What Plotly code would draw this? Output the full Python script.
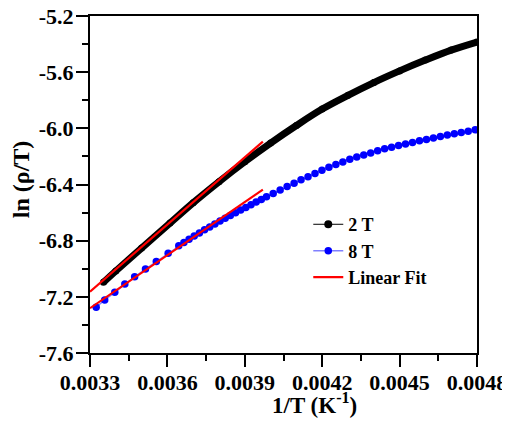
import plotly.graph_objects as go

# 2 T data (dense points)
t2_x = [0.003352, 0.00340, 0.00350, 0.00361, 0.00370, 0.00380, 0.00390, 0.00400,
        0.00410, 0.00420, 0.00430, 0.00440, 0.00450, 0.00460, 0.00470, 0.00480]
t2_y = [-7.097, -7.016, -6.853, -6.675, -6.530, -6.380, -6.238, -6.105,
        -5.980, -5.863, -5.765, -5.674, -5.591, -5.514, -5.443, -5.385]

# 8 T data
t8_x = [0.003324, 0.003357, 0.003396, 0.003435, 0.003473, 0.003515, 0.003557, 0.003603, 0.003644,
        0.003664, 0.003684, 0.003704, 0.003724, 0.003744, 0.003764, 0.003784, 0.003804, 0.003824,
        0.003844, 0.003864, 0.003884, 0.003904, 0.003924, 0.003944, 0.003964, 0.003984,
        0.004010, 0.004037, 0.004064, 0.004091, 0.004118, 0.004145, 0.004172, 0.004199, 0.004226,
        0.004253, 0.004280, 0.004307, 0.004334, 0.004361, 0.004388, 0.004415, 0.004442, 0.004469,
        0.004496, 0.004523, 0.004550, 0.004577, 0.004604, 0.004631, 0.004658, 0.004685, 0.004712,
        0.004739, 0.004766, 0.004793]
t8_y = [-7.274, -7.222, -7.168, -7.109, -7.057, -7.002, -6.948, -6.890, -6.836,
        -6.813, -6.790, -6.767, -6.745, -6.723, -6.702, -6.681, -6.660, -6.640,
        -6.621, -6.601, -6.582, -6.563, -6.544, -6.525, -6.506, -6.488,
        -6.464, -6.440, -6.415, -6.391, -6.367, -6.344, -6.321, -6.299, -6.278,
        -6.258, -6.240, -6.221, -6.205, -6.190, -6.175, -6.160, -6.145, -6.134,
        -6.123, -6.111, -6.100, -6.089, -6.079, -6.068, -6.058, -6.048, -6.039,
        -6.029, -6.020, -6.010]

# Linear fits (end points)
fit_x = [0.00330, 0.00397]
fit_2T_y = [-7.163, -6.095]
fit_8T_y = [-7.281, -6.437]

x_ticks = [0.0033, 0.0036, 0.0039, 0.0042, 0.0045, 0.0048]
x_ticktext = ["0.0033", "0.0036", "0.0039", "0.0042", "0.0045", "0.0048"]
x_minor = [0.00345, 0.00375, 0.00405, 0.00435, 0.00465]
y_ticks = [-7.6, -7.2, -6.8, -6.4, -6.0, -5.6, -5.2]
y_ticktext = ["-7.6", "-7.2", "-6.8", "-6.4", "-6.0", "-5.6", "-5.2"]
y_minor = [-7.4, -7.0, -6.6, -6.2, -5.8, -5.4]

FONT = "Liberation Serif"

fig = go.Figure()
fig.add_trace(go.Scatter(x=t2_x, y=t2_y, mode="lines+markers",
                         line=dict(color="black", width=7, shape="spline"),
                         marker=dict(color="black", size=7), showlegend=False))
fig.add_trace(go.Scatter(x=[None], y=[None], mode="lines+markers", name="2 T",
                         line=dict(color="black", width=1),
                         marker=dict(color="black", size=8)))
fig.add_trace(go.Scatter(x=t8_x, y=t8_y, mode="lines+markers", name="8 T",
                         line=dict(color="#8080ff", width=1.5),
                         marker=dict(color="#0000ff", size=7.5)))
fig.add_trace(go.Scatter(x=fit_x, y=fit_2T_y, mode="lines", name="Linear Fit",
                         line=dict(color="#ff0000", width=2.2)))
fig.add_trace(go.Scatter(x=fit_x, y=fit_8T_y, mode="lines", showlegend=False,
                         line=dict(color="#ff0000", width=2.2)))

axis_common = dict(showgrid=False, zeroline=False, showline=True, linewidth=2,
                   linecolor="black", mirror=True, ticks="outside", ticklen=12,
                   tickwidth=2, tickcolor="black", tickmode="array", automargin=False,
                   ticklabeloverflow="allow")

fig.update_xaxes(range=[0.0033, 0.0048], tickvals=x_ticks,
                 ticktext=["<b>" + t + "</b>" for t in x_ticktext],
                 tickfont=dict(family=FONT, size=22, color="black", weight="bold"),
                 ticklabelstandoff=-3,
                 minor=dict(tickmode="array", tickvals=x_minor, ticks="outside",
                            ticklen=6, tickwidth=2, tickcolor="black"),
                 **axis_common)
fig.update_yaxes(range=[-7.6, -5.2], tickvals=y_ticks,
                 ticktext=["<b>" + t + "</b>" for t in y_ticktext],
                 tickfont=dict(family=FONT, size=22, color="black", weight="bold"),
                 ticklabelstandoff=-2,
                 minor=dict(tickmode="array", tickvals=y_minor, ticks="outside",
                            ticklen=6, tickwidth=2, tickcolor="black"),
                 **axis_common)

fig.update_layout(
    width=510, height=429,
    margin=dict(l=82, r=41, t=8, b=84),
    paper_bgcolor="white", plot_bgcolor="white",
    font=dict(family=FONT, color="black"),
    legend=dict(x=0.564, y=0.436, xanchor="left", yanchor="top",
                font=dict(family=FONT, size=18, color="black", weight="bold"),
                bgcolor="rgba(0,0,0,0)", borderwidth=0, tracegroupgap=0),
    annotations=[
        dict(text="<b>1/T (K<sup>-1</sup>)</b>", xref="paper", yref="paper",
             x=0.581, y=-0.1495, xanchor="center", yanchor="middle", showarrow=False,
             font=dict(family=FONT, size=23, color="black", weight="bold")),
        dict(text="<b>ln (ρ/T)</b>", xref="paper", yref="paper", textangle=-90,
             x=-0.178, y=0.516, xanchor="center", yanchor="middle", showarrow=False,
             font=dict(family=FONT, size=24, color="black", weight="bold")),
    ],
)

fig.write_html("out.html")
